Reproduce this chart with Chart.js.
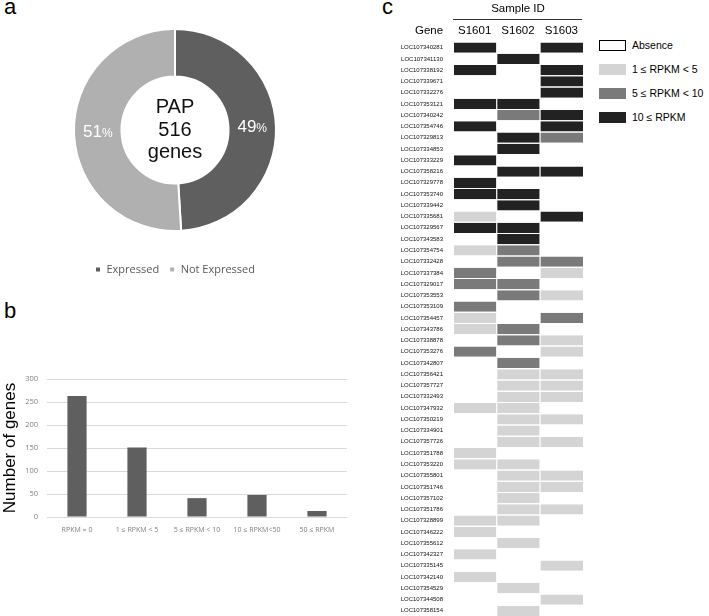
<!DOCTYPE html>
<html>
<head>
<meta charset="utf-8">
<script src="https://cdn.jsdelivr.net/npm/chart.js@4"></script>
<style>
body{margin:0;background:#fff;width:709px;height:616px;position:relative;overflow:hidden;font-family:"Liberation Sans",Arial,sans-serif}
canvas{position:absolute}
.tag{position:absolute;font-size:22px;line-height:1;color:#000}
.item{position:absolute;left:599px;white-space:nowrap;font-size:10.5px;line-height:11px;color:#000}
.item span{display:inline-block;width:27px;height:11px;vertical-align:top;margin-right:6px;box-sizing:border-box}
</style>
</head>
<body>
<div class="tag" style="left:4px;top:-4px">a</div>
<div class="tag" style="left:4px;top:300px">b</div>
<div class="tag" style="left:382px;top:-4px">c</div>

<canvas id="rosca" width="350" height="285" style="left:0;top:0"></canvas>
<canvas id="barras" width="360" height="210" style="left:0;top:340px"></canvas>
<canvas id="mapa" width="210" height="622" style="left:380px;top:0"></canvas>

<div class="item" style="top:40px"><span style="border:1px solid #000;background:#fff"></span>Absence</div>
<div class="item" style="top:64px"><span style="background:#d4d4d4"></span>1 ≤ RPKM &lt; 5</div>
<div class="item" style="top:88px"><span style="background:#7a7a7a"></span>5 ≤ RPKM &lt; 10</div>
<div class="item" style="top:112px"><span style="background:#222"></span>10 ≤ RPKM</div>

<script>
// painel a
const rotulosExpressao = ["Expressed", "Not Expressed"];
const expressao = [253, 263];

// painel b
const faixasRPKM = ["RPKM = 0", "1 ≤ RPKM < 5", "5 ≤ RPKM < 10", "10 ≤ RPKM<50", "50 ≤ RPKM"];
const numeroGenes = [263, 151, 41, 48, 13];

// painel c  (0 ausente, 1: 1-5, 2: 5-10, 3: >=10)
const amostras = ["S1601", "S1602", "S1603"];
const genes = [
  "LOC107340281","LOC107341130","LOC107338192","LOC107339671","LOC107332276","LOC107353121",
  "LOC107340242","LOC107354746","LOC107329813","LOC107334853","LOC107333229","LOC107358216",
  "LOC107329778","LOC107353740","LOC107339442","LOC107335681","LOC107329567","LOC107343583",
  "LOC107354754","LOC107332428","LOC107337384","LOC107329017","LOC107353553","LOC107353109",
  "LOC107354457","LOC107343786","LOC107338878","LOC107353276","LOC107342807","LOC107356421",
  "LOC107357727","LOC107332493","LOC107347932","LOC107350219","LOC107334901","LOC107357726",
  "LOC107351788","LOC107353220","LOC107355801","LOC107351746","LOC107357102","LOC107351786",
  "LOC107328899","LOC107346222","LOC107355612","LOC107342327","LOC107335145","LOC107342140",
  "LOC107354529","LOC107344508","LOC107358154"
];
const s1601 = [3,0,3,0,0,3,0,3,0,0,3,0,3,3,0,1,3,0,1,0,2,2,0,2,1,1,0,2,0,0,0,0,1,0,0,0,1,1,0,0,0,0,1,1,0,1,0,1,0,0,0];
const s1602 = [0,3,0,0,0,3,2,0,3,3,0,3,0,3,3,0,3,3,2,2,0,2,2,0,0,2,2,0,2,1,1,1,1,1,1,1,0,1,1,1,1,1,1,0,1,0,0,0,1,0,1];
const s1603 = [3,0,3,3,3,0,3,3,2,0,0,3,0,0,0,3,0,0,0,2,1,0,1,0,2,0,1,1,0,1,1,1,0,1,0,1,0,0,1,1,0,1,0,0,0,0,1,0,0,1,0];
const niveis = [s1601, s1602, s1603];

const coresNivel = ["#ffffff", "#d4d4d4", "#7a7a7a", "#222222"];

Chart.defaults.font.family = "'Liberation Sans', Arial, sans-serif";

// texto no centro e percentuais
const textosRosca = {
  id: "textosRosca",
  afterDatasetsDraw(chart){
    const ctx = chart.ctx;
    const total = expressao.reduce((a,b)=>a+b,0);
    ctx.save();
    ctx.fillStyle = "#fff";
    ctx.textBaseline = "middle";
    chart.getDatasetMeta(0).data.forEach((arco,i)=>{
      const p = arco.tooltipPosition();
      const num = String(Math.round(expressao[i]/total*100));
      ctx.font = "17px 'Liberation Sans'";
      const w1 = ctx.measureText(num).width;
      ctx.font = "12px 'Liberation Sans'";
      const w2 = ctx.measureText("%").width;
      const x0 = p.x - (w1+w2)/2;
      ctx.textAlign = "left";
      ctx.font = "17px 'Liberation Sans'";
      ctx.fillText(num, x0, p.y);
      ctx.font = "12px 'Liberation Sans'";
      ctx.fillText("%", x0 + w1, p.y + 1);
    });
    const a = chart.chartArea;
    const cx = (a.left+a.right)/2, cy = (a.top+a.bottom)/2;
    ctx.fillStyle = "#111";
    ctx.textAlign = "center";
    ctx.font = "20px 'Liberation Sans'";
    ctx.fillText("PAP", cx, cy-23);
    ctx.fillText("516", cx, cy);
    ctx.fillText("genes", cx, cy+22);
    ctx.restore();
  }
};

new Chart(document.getElementById("rosca"), {
  type: "doughnut",
  data: {
    labels: rotulosExpressao,
    datasets: [{
      data: expressao,
      backgroundColor: ["#5f5f5f", "#b0b0b0"],
      borderColor: "#fff",
      borderWidth: 2
    }]
  },
  options: {
    responsive: false,
    animation: false,
    radius: 101,
    cutout: "53%",
    layout: {padding: {top: 6}},
    plugins: {
      legend: {
        position: "bottom",
        labels: {usePointStyle: true, pointStyle: "rect", boxWidth: 6, boxHeight: 6, padding: 10,
                 color: "#595959", font: {size: 11, family: "'Open Sans'"}}
      },
      tooltip: {enabled: false}
    }
  },
  plugins: [textosRosca]
});

new Chart(document.getElementById("barras"), {
  type: "bar",
  data: {
    labels: faixasRPKM,
    datasets: [{
      data: numeroGenes,
      backgroundColor: "#5f5f5f",
      barPercentage: 0.32,
      categoryPercentage: 1
    }]
  },
  options: {
    responsive: false,
    animation: false,
    layout: {padding: {top: 39, right: 13}},
    plugins: {legend: {display: false}, tooltip: {enabled: false}},
    scales: {
      x: {
        grid: {display: false, drawTicks: false},
        border: {display: false},
        ticks: {font: {size: 7, family: "'Open Sans'"}, color: "#7f7f7f", maxRotation: 0, autoSkip: false, padding: 9},
        afterFit(s){ s.height = 33; }
      },
      y: {
        min: 0, max: 300,
        ticks: {stepSize: 50, font: {size: 7.5, family: "'Open Sans'"}, color: "#7f7f7f", padding: 9},
        grid: {color: "#d9d9d9", drawTicks: false},
        border: {display: false},
        title: {display: true, text: "Number of genes", color: "#000", font: {size: 17}, padding: 0},
        afterFit(s){ s.width = 47; }
      }
    }
  }
});

// cabeçalho do mapa
const cabecalho = {
  id: "cabecalho",
  afterDraw(chart){
    const ctx = chart.ctx;
    const x = chart.scales.x;
    ctx.save();
    ctx.fillStyle = "#000";
    ctx.font = "11.5px 'Liberation Sans'";
    ctx.textAlign = "center";
    ctx.textBaseline = "middle";
    ctx.fillText("Sample ID", x.getPixelForValue(1.5), 9);
    ctx.strokeStyle = "#333";
    ctx.lineWidth = 1;
    ctx.beginPath();
    ctx.moveTo(x.getPixelForValue(0), 19.5);
    ctx.lineTo(x.getPixelForValue(3) - 1, 19.5);
    ctx.stroke();
    amostras.forEach((s,i)=>ctx.fillText(s, x.getPixelForValue(i + 0.5), 31));
    ctx.fillText("Gene", 49, 31);
    ctx.restore();
  }
};

new Chart(document.getElementById("mapa"), {
  type: "bar",
  data: {
    labels: genes,
    datasets: amostras.map((s,j)=>({
      label: s,
      data: niveis[j].map(()=>1),
      backgroundColor: niveis[j].map(n=>coresNivel[n]),
      borderColor: "#fff",
      borderWidth: {left: 1, right: 0, top: 0, bottom: 0},
      borderSkipped: false,
      barPercentage: 0.91,
      categoryPercentage: 1
    }))
  },
  options: {
    indexAxis: "y",
    responsive: false,
    animation: false,
    layout: {padding: {top: 42, right: 7}},
    plugins: {legend: {display: false}, tooltip: {enabled: false}},
    scales: {
      x: {stacked: true, min: 0, max: 3, display: false},
      y: {
        stacked: true,
        grid: {display: false},
        border: {display: false},
        ticks: {autoSkip: false, font: {size: 6}, color: "#111", padding: 2},
        afterFit(s){ s.width = 73; }
      }
    }
  },
  plugins: [cabecalho]
});
</script>
</body>
</html>
